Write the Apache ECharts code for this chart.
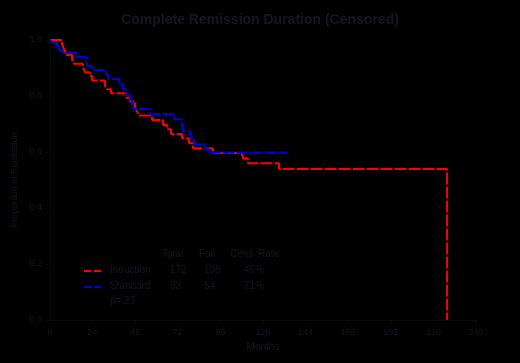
<!DOCTYPE html>
<html>
<head>
<meta charset="utf-8">
<script src="https://cdn.jsdelivr.net/npm/echarts@6/dist/echarts.min.js"></script>
<style>
  html, body { margin: 0; padding: 0; background: #000; }
</style>
</head>
<body>
<div id="chart" style="width:520px;height:363px;"></div>
<script>
// step curves, [month, proportion]
const redCurve = [
  [0, 1.0], [6.8, 0.985], [7.6, 0.972], [8.5, 0.96], [9.0, 0.946], [12.4, 0.929],
  [13.5, 0.915], [18.6, 0.901], [19.7, 0.885], [22.5, 0.871], [23.7, 0.855],
  [31, 0.837], [32, 0.824], [34.4, 0.81], [42.8, 0.794], [45, 0.78], [47.9, 0.762],
  [49, 0.746], [50, 0.73], [57.5, 0.714], [63.7, 0.696], [66, 0.681], [68.2, 0.664],
  [74.4, 0.649], [78.3, 0.631], [80.6, 0.613], [91.8, 0.596], [108, 0.593],
  [108.7, 0.578], [111.5, 0.56], [129, 0.539], [223.7, 0.539], [223.7, 0.0]
]
const blueCurve = [
  [0, 1.0], [1, 0.992], [3.9, 0.979], [5.1, 0.964], [6.8, 0.955], [14.6, 0.94],
  [20.3, 0.922], [21.4, 0.907], [23.7, 0.893], [31.5, 0.875], [32.7, 0.861],
  [38.9, 0.842], [41.1, 0.824], [42.8, 0.806], [45, 0.786], [46.2, 0.77],
  [47.3, 0.754], [56.3, 0.736], [69.9, 0.717], [74.4, 0.69], [74.9, 0.673],
  [78.9, 0.649], [81.1, 0.628], [87.3, 0.613], [89, 0.598], [133.5, 0.598]
]
const groupNames = ['Induction', 'Standard']
const groupColors = ['#ff0000', '#0000dd']
const tableHeader = ['Total', 'Fail', 'Cens', 'Rate']
const totals = ['172', '93']
const fails = ['108', '54']
const rates = ['46%', '71%']
const pValue = 'p=.27'

const txt = '#16161f'
const font = '10px sans-serif'
const myChart = echarts.init(document.getElementById('chart'))

// legend table drawn as graphics
const table = []
tableHeader.forEach((h, i) => {
  table.push({ type: 'text', left: [162, 199, 230, 258][i], top: 249,
    style: { text: h, fill: txt, font: font } })
})
for (let r = 0; r < 2; r++) {
  const top = 265 + r * 16
  table.push({ type: 'line', shape: { x1: 84, y1: top + 6, x2: 102, y2: top + 6 },
    style: { stroke: groupColors[r], lineWidth: 2, lineDash: [7, 3] } })
  table.push({ type: 'text', left: 110, top: top, style: { text: groupNames[r], fill: txt, font: font } })
  table.push({ type: 'text', left: 170, top: top, style: { text: totals[r], fill: txt, font: font } })
  table.push({ type: 'text', left: 204, top: top, style: { text: fails[r], fill: txt, font: font } })
  table.push({ type: 'text', left: 244, top: top, style: { text: rates[r], fill: txt, font: font } })
}
table.push({ type: 'text', left: 110, top: 296, style: { text: pValue, fill: txt, font: font } })

const option = {
  backgroundColor: '#000',
  animation: false,
  title: {
    text: 'Complete Remission Duration (Censored)',
    left: 'center',
    top: 8,
    textStyle: { color: txt, fontSize: 14, fontWeight: 'bold', fontFamily: 'sans-serif' }
  },
  grid: { left: 50, right: 44, top: 40, bottom: 43 },
  xAxis: {
    type: 'value',
    min: 0,
    max: 240,
    interval: 24,
    name: 'Months',
    nameLocation: 'middle',
    nameGap: 22,
    nameTextStyle: { color: txt, fontSize: 10 },
    axisLine: { show: true, lineStyle: { color: '#080808' } },
    axisTick: { show: true, lineStyle: { color: '#080808' } },
    axisLabel: { color: txt, fontSize: 9 },
    splitLine: { show: false }
  },
  yAxis: {
    type: 'value',
    min: 0,
    max: 1,
    interval: 0.2,
    name: 'Proportion in Remission',
    nameLocation: 'middle',
    nameGap: 30,
    nameTextStyle: { color: txt, fontSize: 9 },
    axisLine: { show: true, lineStyle: { color: '#080808' } },
    axisTick: { show: true, lineStyle: { color: '#080808' } },
    axisLabel: { color: txt, fontSize: 9, formatter: (v) => v.toFixed(1) },
    splitLine: { show: false }
  },
  series: [
    {
      name: groupNames[0],
      type: 'line',
      step: 'end',
      symbol: 'none',
      data: redCurve,
      lineStyle: { color: groupColors[0], width: 2, type: [12, 2] }
    },
    {
      name: groupNames[1],
      type: 'line',
      step: 'end',
      symbol: 'none',
      data: blueCurve,
      lineStyle: { color: groupColors[1], width: 2, type: [12, 2] }
    }
  ],
  graphic: table
}

myChart.setOption(option)
</script>
</body>
</html>
